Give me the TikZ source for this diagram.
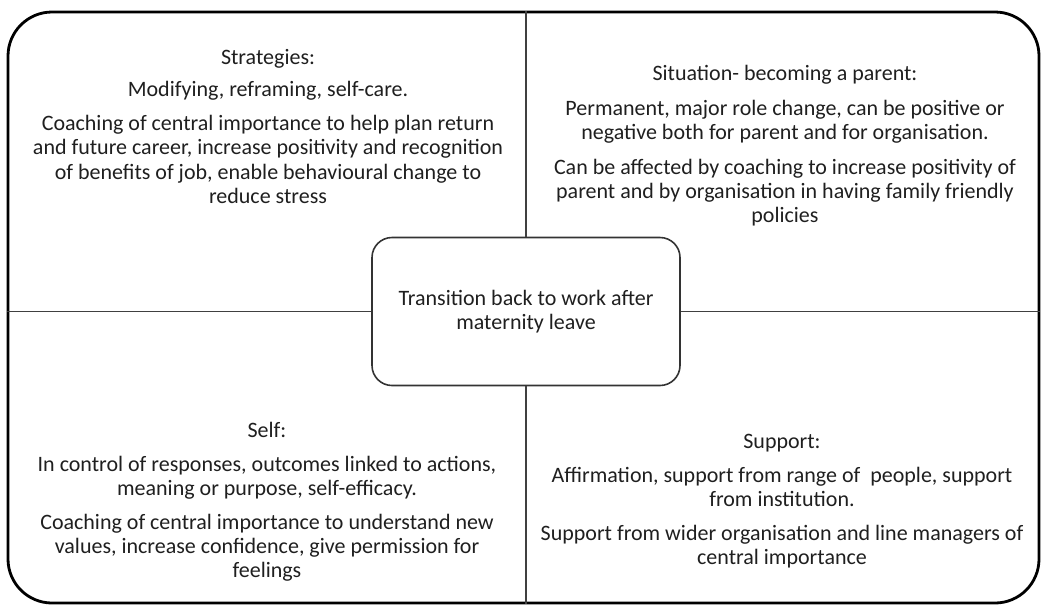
\documentclass[tikz,border=0pt]{standalone}
\usepackage{fontspec}
\setmainfont{Carlito}
\usepackage{tikz}
\usetikzlibrary{positioning,calc}

\begin{document}
\begin{tikzpicture}[x=0.5pt, y=-0.5pt, semithick, font=\fontsize{11}{12.2}\selectfont]
	\tikzstyle{quad}=[inner sep=0pt, align=center, text=black!88, anchor=north]
	\tikzstyle{line}=[draw=black!75, line width=0.8pt]
	
	\useasboundingbox (0,0) rectangle (1042,606);
	
	% outer frame and the hub in the middle
	\node [draw, line width=1.4pt, rounded corners=22pt, inner sep=0pt, minimum width=515.5pt, minimum height=295.5pt] (frame) at (523.5,307.5) {};
	\node [draw=black!80, line width=0.8pt, rounded corners=10pt, inner sep=0pt, minimum width=154pt, minimum height=74pt, align=center, text=black!88] (hub) at (526,311.5) {Transition back to work after\\maternity leave};
	
	\draw [line] (hub.north) -- (hub.north |- frame.north);
	\draw [line] (hub.south) -- (hub.south |- frame.south);
	\draw [line] (hub.west) -- (hub.west -| frame.west);
	\draw [line] (hub.east) -- (hub.east -| frame.east);
	
	% the four quadrants
	\node [quad] (strategies) at (268,49) {Strategies:\\[3.5pt]
		Modifying, reframing, self-care.\\[5pt]
		Coaching of central importance to help plan return\\
		and future career, increase positivity and recognition\\
		of benefits of job, enable behavioural change to\\
		reduce stress};
	
	\node [quad] (situation) at (785,65) {Situation- becoming a parent:\\[5pt]
		Permanent, major role change, can be positive or\\
		negative both for parent and for organisation.\\[5pt]
		Can be affected by coaching to increase positivity of\\
		parent and by organisation in having family friendly\\
		policies};
	
	\node [quad] (self) at (267,422) {Self:\\[4.5pt]
		In control of responses, outcomes linked to actions,\\
		meaning or purpose, self-efficacy.\\[4.5pt]
		Coaching of central importance to understand new\\
		values, increase confidence, give permission for\\
		feelings};
	
	\node [quad] (support) at (782,434) {Support:\\[4.5pt]
		Affirmation, support from range of~ people, support\\
		from institution.\\[4.5pt]
		Support from wider organisation and line managers of\\
		central importance};
\end{tikzpicture}
\end{document}
